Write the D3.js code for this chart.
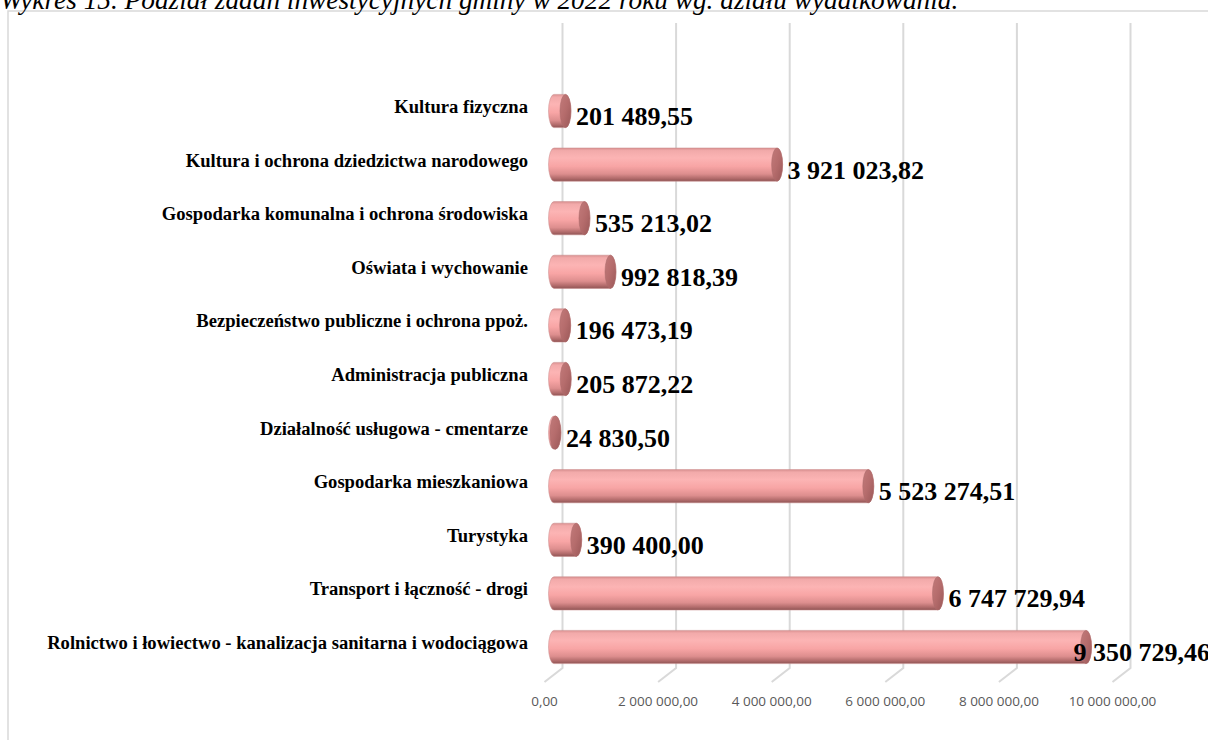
<!DOCTYPE html>
<html>
<head>
<meta charset="utf-8">
<script src="https://cdn.jsdelivr.net/npm/d3@7"></script>
<style>
  html, body { margin: 0; padding: 0; background: #ffffff; overflow: hidden; }
  svg { display: block; }
</style>
</head>
<body>
<svg id="chart" width="1208" height="740"></svg>
<script>
// ---- data (top to bottom as displayed) ----
const categories = [
  "Kultura fizyczna",
  "Kultura i ochrona dziedzictwa narodowego",
  "Gospodarka komunalna i ochrona środowiska",
  "Oświata i wychowanie",
  "Bezpieczeństwo publiczne i ochrona ppoż.",
  "Administracja publiczna",
  "Działalność usługowa - cmentarze",
  "Gospodarka mieszkaniowa",
  "Turystyka",
  "Transport i łączność - drogi",
  "Rolnictwo i łowiectwo - kanalizacja sanitarna i wodociągowa"
];
const values = [201489.55, 3921023.82, 535213.02, 992818.39, 196473.19, 205872.22, 24830.50, 5523274.51, 390400.00, 6747729.94, 9350729.46];
const tickValues = [0, 2000000, 4000000, 6000000, 8000000, 10000000];
const titleText = "Wykres 15. Podział zadań inwestycyjnych gminy w 2022 roku wg. działu wydatkowania.";

const plLocale = d3.formatLocale({decimal: ",", thousands: " ", grouping: [3], currency: ["", " zł"]});
const fmt = plLocale.format(",.2f");

const svg = d3.select("#chart");
const defs = svg.append("defs");

// body gradient
const g1 = defs.append("linearGradient").attr("id", "bodyGrad").attr("x1", 0).attr("y1", 0).attr("x2", 0).attr("y2", 1);
[[0, "#d99090"], [0.08, "#f2aaaa"], [0.3, "#fcb4b4"], [0.55, "#f8a5a5"], [0.78, "#dd8e8e"], [0.92, "#b06a6a"], [1, "#8f5454"]]
  .forEach(([o, c]) => g1.append("stop").attr("offset", o).attr("stop-color", c));
const g2 = defs.append("linearGradient").attr("id", "capGrad").attr("x1", 0).attr("y1", 0).attr("x2", 1).attr("y2", 1);
[[0, "#c27a7a"], [0.5, "#b56c6c"], [1, "#9a5858"]]
  .forEach(([o, c]) => g2.append("stop").attr("offset", o).attr("stop-color", c));

// frame
svg.append("rect").attr("x", 8).attr("y", 11).attr("width", 1400).attr("height", 900)
  .attr("fill", "#ffffff").attr("stroke", "#d9d9d9").attr("stroke-width", 1.5);

// title (cut at top)
svg.append("text").attr("x", 0).attr("y", 9)
  .attr("font-family", "'Liberation Serif', 'Times New Roman', serif")
  .attr("font-style", "italic").attr("font-size", 27.3).attr("fill", "#000")
  .text(titleText);

// scales
const xBack = d3.scaleLinear().domain([0, 10000000]).range([562.5, 1130.5]);
const xBar = d3.scaleLinear().domain([0, 10000000]).range([554, 1123]);
const y = d3.scaleBand().domain(categories).range([84.2, 673.8]).paddingInner(0.38).paddingOuter(0.19);

const depthDx = -18, depthDy = 14;
const wallTop = 23, wallBottom = 668;

// gridlines on back wall + floor ticks
const grid = svg.append("g");
tickValues.forEach(v => {
  const xb = xBack(v);
  grid.append("path")
    .attr("d", `M${xb},${wallTop} L${xb},${wallBottom} L${xb + depthDx},${wallBottom + depthDy}`)
    .attr("fill", "none").attr("stroke", "#d9d9d9").attr("stroke-width", 2);
});

// axis tick labels
svg.append("g").selectAll("text").data(tickValues).join("text")
  .attr("x", d => xBack(d) + depthDx)
  .attr("y", 706)
  .attr("text-anchor", "middle")
  .attr("font-family", "'Open Sans', sans-serif")
  .attr("font-size", 13.5)
  .attr("fill", "#595959")
  .text(d => fmt(d));

// category labels
svg.append("g").selectAll("text").data(categories).join("text")
  .attr("x", 528)
  .attr("y", d => y(d) + y.bandwidth() / 2 + 2)
  .attr("text-anchor", "end")
  .attr("font-family", "'Liberation Serif', 'Times New Roman', serif")
  .attr("font-weight", "bold")
  .attr("font-size", 18.6)
  .attr("fill", "#000")
  .text(d => d);

// cylinders
const rx = 5.5;
const bars = svg.append("g");
categories.forEach((c, i) => {
  const v = values[i];
  const x0 = xBar(0), x1 = xBar(v);
  const top = y(c), h = y.bandwidth(), bot = top + h, ry = h / 2, cy = top + ry;
  bars.append("path")
    .attr("d", `M${x0},${top} L${x1},${top} A${rx},${ry} 0 0 1 ${x1},${bot} L${x0},${bot} A${rx},${ry} 0 0 1 ${x0},${top} Z`)
    .attr("fill", "url(#bodyGrad)")
    .attr("stroke", "#c98a8a").attr("stroke-width", 0.5);
  bars.append("ellipse")
    .attr("cx", x1).attr("cy", cy).attr("rx", rx).attr("ry", ry)
    .attr("fill", "url(#capGrad)")
    .attr("stroke", "#a86a6a").attr("stroke-width", 0.5);
});

// value labels
const chartRight = 1210;
const vl = svg.append("g");
categories.forEach((c, i) => {
  const v = values[i];
  const t = vl.append("text")
    .attr("y", y(c) + y.bandwidth() / 2 + 14)
    .attr("font-family", "'Liberation Serif', 'Times New Roman', serif")
    .attr("font-weight", "bold")
    .attr("font-size", 26)
    .attr("fill", "#000")
    .text(fmt(v));
  const w = t.node().getComputedTextLength();
  const xs = Math.min(xBar(v) + rx + 5, chartRight - w);
  t.attr("x", xs);
});
</script>
</body>
</html>
